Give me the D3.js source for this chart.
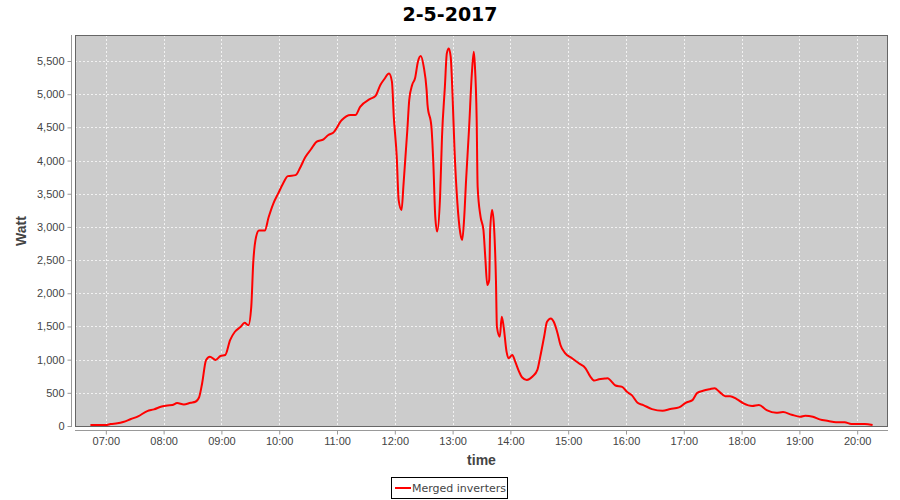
<!DOCTYPE html>
<html>
<head>
<meta charset="utf-8">
<script src="https://cdn.jsdelivr.net/npm/d3@7/dist/d3.min.js"></script>
<style>
  body { margin: 0; background: #fff; }
  svg { display: block; }
</style>
</head>
<body>
<div id="chart"></div>
<script>
// data: time of day and merged inverter power (W)
var times = ["06:44","07:00","07:05","07:12","07:18","07:26","07:34","07:43","07:50","07:58",
  "08:04","08:09","08:14","08:21","08:28","08:33","08:37","08:40","08:44","08:48","08:54","08:59",
  "09:04","09:09","09:14","09:20","09:24","09:28","09:31","09:33","09:36","09:39","09:45","09:49","09:54","09:59",
  "10:04","10:09","10:17","10:22","10:27","10:33","10:39","10:46","10:51","10:56",
  "11:05","11:14","11:19","11:24","11:34","11:40","11:45","11:49","11:54","11:57","11:59",
  "12:02","12:04","12:07","12:09","12:13","12:15","12:18","12:21","12:24","12:27","12:30","12:33","12:34","12:38","12:40","12:42","12:44","12:47","12:49","12:52","12:54","12:56","12:58",
  "13:00","13:02","13:05","13:08","13:10","13:12","13:14","13:17","13:20","13:22","13:23","13:25","13:26","13:29","13:32","13:34","13:36","13:38","13:39","13:41","13:43","13:45","13:46","13:49","13:51","13:53","13:56","13:58",
  "14:02","14:05","14:09","14:12","14:17","14:23","14:28","14:31","14:35","14:38","14:42","14:45","14:49","14:52","14:57",
  "15:04","15:11","15:18","15:23","15:27","15:32","15:38","15:41","15:44","15:49","15:56",
  "16:01","16:06","16:12","16:18","16:27","16:38","16:46","16:55",
  "17:02","17:09","17:14","17:20","17:27","17:32","17:37","17:43","17:48","17:55",
  "18:02","18:11","18:18","18:26","18:36","18:43","18:52",
  "19:01","19:06","19:14","19:21","19:30","19:38","19:47","19:54",
  "20:03","20:08","20:16"];
var watts = [15,15,30,40,60,105,150,225,250,295,
  310,315,345,325,350,365,440,645,990,1045,995,1055,
  1070,1295,1420,1495,1555,1520,1800,2450,2850,2945,2945,3145,3355,3505,
  3655,3765,3780,3900,4050,4170,4285,4320,4385,4420,
  4610,4685,4685,4810,4925,4975,5140,5225,5310,5190,4650,
  4060,3405,3255,3630,4460,4915,5140,5240,5490,5575,5415,5065,4835,4510,3960,3155,2930,3455,4360,5115,5615,5690,5565,
  4960,4160,3355,2905,2805,3130,3705,4460,5315,5640,5465,4610,3605,3155,2955,2525,2125,2200,2955,3255,3005,2200,1495,1345,1645,1495,1120,1020,
  1070,970,820,735,695,745,845,1045,1345,1570,1620,1570,1395,1220,1095,
  1020,945,870,745,685,705,715,720,685,610,590,
  515,465,350,315,255,230,255,280,
  350,390,500,530,555,570,515,450,450,405,
  340,300,315,240,200,210,170,
  140,155,140,100,75,55,55,30,
  30,30,15];
var yTicks = [0,500,1000,1500,2000,2500,3000,3500,4000,4500,5000,5500];
var xTickLabels = ["07:00","08:00","09:00","10:00","11:00","12:00","13:00","14:00","15:00","16:00","17:00","18:00","19:00","20:00"];
var seriesName = "Merged inverters";
var chartTitle = "2-5-2017";

var parseTime = d3.timeParse("%Y-%m-%d %H:%M");
var day = "2017-05-02 ";
var data = times.map(function(t, i) { return {t: parseTime(day + t), v: watts[i]}; });

var W = 900, H = 500;
var plot = {left: 75, right: 888, top: 35, bottom: 427};

var svg = d3.select("#chart").append("svg")
  .attr("width", W).attr("height", H)
  .style("font-family", "'DejaVu Sans', sans-serif");

// scales
var x = d3.scaleTime()
  .domain([parseTime(day + "06:28"), parseTime(day + "20:32")])
  .range([plot.left, plot.right]);
var y = d3.scaleLinear()
  .domain([-15, 5892])
  .range([plot.bottom, plot.top]);

// plot background
svg.append("rect")
  .attr("x", plot.left).attr("y", plot.top)
  .attr("width", plot.right - plot.left).attr("height", plot.bottom - plot.top)
  .attr("fill", "#cccccc");

// grid lines
var xTickDates = xTickLabels.map(function(s) { return parseTime(day + s); });
svg.append("g").selectAll("line")
  .data(xTickDates).enter().append("line")
  .attr("x1", function(d) { return Math.round(x(d)) + 0.5; })
  .attr("x2", function(d) { return Math.round(x(d)) + 0.5; })
  .attr("y1", plot.top).attr("y2", plot.bottom)
  .attr("stroke", "#f2f2f2").attr("stroke-width", 1).attr("stroke-dasharray", "2,2");
svg.append("g").selectAll("line")
  .data(yTicks).enter().append("line")
  .attr("x1", plot.left).attr("x2", plot.right)
  .attr("y1", function(d) { return Math.round(y(d)) + 0.5; })
  .attr("y2", function(d) { return Math.round(y(d)) + 0.5; })
  .attr("stroke", "#f2f2f2").attr("stroke-width", 1).attr("stroke-dasharray", "2,2");

// plot outline
svg.append("rect")
  .attr("x", plot.left + 0.5).attr("y", plot.top + 0.5)
  .attr("width", plot.right - plot.left - 1).attr("height", plot.bottom - plot.top - 1)
  .attr("fill", "none").attr("stroke", "#666666");

// y axis
var yAxis = svg.append("g")
  .attr("transform", "translate(71.5,0)")
  .call(d3.axisLeft(y).tickValues(yTicks).tickSize(4).tickPadding(3).tickFormat(d3.format(",")));
yAxis.select(".domain").attr("stroke", "#999999").attr("d", "M0," + plot.top + "V" + plot.bottom);
yAxis.selectAll(".tick line").attr("stroke", "#999999");
yAxis.selectAll("text").attr("fill", "#444444").style("font-size", "11px");

// x axis
var xAxis = svg.append("g")
  .attr("transform", "translate(0,430.5)")
  .call(d3.axisBottom(x).tickValues(xTickDates).tickSize(4).tickPadding(3).tickFormat(d3.timeFormat("%H:%M")));
xAxis.select(".domain").attr("stroke", "#999999").attr("d", "M" + plot.left + ",0H" + plot.right);
xAxis.selectAll(".tick line").attr("stroke", "#999999");
xAxis.selectAll("text").attr("fill", "#444444").style("font-size", "11px");

// series line
var line = d3.line()
  .x(function(d) { return x(d.t); })
  .y(function(d) { return y(d.v); })
  .curve(d3.curveMonotoneX);
svg.append("path")
  .datum(data)
  .attr("d", line)
  .attr("fill", "none")
  .attr("stroke", "#ff0000")
  .attr("stroke-width", 2)
  .attr("stroke-linejoin", "round");

// title
svg.append("text")
  .attr("x", W / 2).attr("y", 21)
  .attr("text-anchor", "middle")
  .style("font-size", "19px").style("font-weight", "bold")
  .attr("fill", "#000")
  .text(chartTitle);

// axis labels
svg.append("text")
  .attr("x", (plot.left + plot.right) / 2).attr("y", 465)
  .attr("text-anchor", "middle")
  .style("font-family", "'Liberation Sans', sans-serif")
  .style("font-size", "14px").style("font-weight", "bold")
  .attr("fill", "#444444")
  .text("time");
svg.append("text")
  .attr("transform", "translate(26," + ((plot.top + plot.bottom) / 2) + ") rotate(-90)")
  .attr("text-anchor", "middle")
  .style("font-family", "'Liberation Sans', sans-serif")
  .style("font-size", "14px").style("font-weight", "bold")
  .attr("fill", "#444444")
  .text("Watt");

// legend
var legend = svg.append("g");
legend.append("rect")
  .attr("x", 391.5).attr("y", 477.5).attr("width", 116).attr("height", 21)
  .attr("fill", "#fff").attr("stroke", "#000");
legend.append("line")
  .attr("x1", 395).attr("x2", 411).attr("y1", 488).attr("y2", 488)
  .attr("stroke", "#ff0000").attr("stroke-width", 2);
legend.append("text")
  .attr("x", 412).attr("y", 492)
  .style("font-size", "11px")
  .attr("fill", "#444444")
  .text(seriesName);
</script>
</body>
</html>
